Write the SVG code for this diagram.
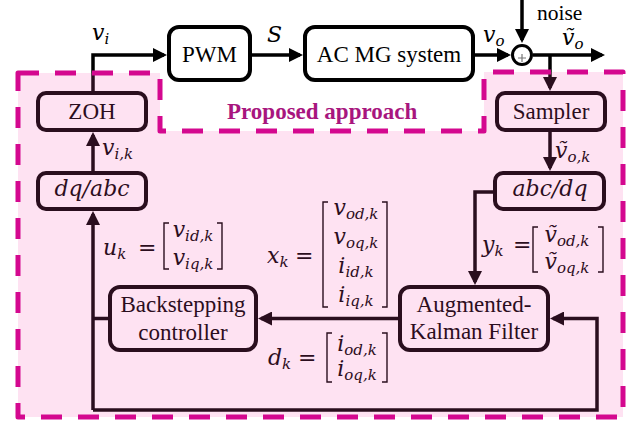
<svg xmlns="http://www.w3.org/2000/svg" width="639" height="422" viewBox="0 0 639 422">
<defs>
<marker id="ah" markerUnits="userSpaceOnUse" markerWidth="14" markerHeight="14" refX="11" refY="7" orient="auto"><path d="M0,0 L14,7 L0,14 z" fill="#000"/></marker>
<style>
.box{fill:#fff;stroke:#000;stroke-width:4}
.t{font-family:"Liberation Serif","Times New Roman",serif;font-size:23px;fill:#000;text-anchor:middle}
.m{font-family:"DejaVu Serif",serif;font-style:italic;font-size:22px;fill:#000}
.mm{text-anchor:middle}
.s{font-size:15px}
.eq{font-style:normal}
.c{fill:none;stroke:#000;stroke-width:3.5;stroke-linejoin:miter}
.ca{marker-end:url(#ah)}
.br{fill:none;stroke:#000;stroke-width:1.4}
</style>
</defs>
<rect x="0" y="0" width="639" height="422" fill="#fff"/>

<g id="connectors">
<path class="c ca" d="M93,91 V55 H164"/>
<path class="c ca" d="M250,55 H300"/>
<path class="c ca" d="M473,55 H508"/>
<path class="c ca" d="M522,0 V40"/>
<path class="c ca" d="M533,55 H602"/>
<path class="c ca" d="M550,55 V88"/>
<path class="c ca" d="M550,130 V168"/>
<path class="c ca" d="M495,192 H475 V282"/>
<path class="c ca" d="M400,318.5 H261"/>
<path class="c" d="M110,318.5 H93"/>
<path class="c ca" d="M93,410 V214"/>
<path class="c ca" d="M93,410 H597 V318.5 H553"/>
<path class="c ca" d="M93,173 V135"/>
</g>

<g id="pwm"><rect class="box" x="169" y="27" width="81" height="53" rx="10"/><text class="t" x="209.5" y="62">PWM</text></g>
<g id="acmg"><rect class="box" x="305" y="27" width="168" height="53" rx="10"/><text class="t" x="389" y="62">AC MG system</text></g>
<g id="sum"><circle cx="522" cy="55" r="9.5" fill="#fff" stroke="#000" stroke-width="3"/><path d="M518,58 H526 M522,54 V62" stroke="#777" stroke-width="1.2" fill="none"/></g>
<g id="zoh"><rect class="box" x="38" y="93" width="108" height="37" rx="8"/><text class="t" x="92" y="119">ZOH</text></g>
<g id="sampler"><rect class="box" x="497" y="93" width="108" height="37" rx="8"/><text class="t" x="551" y="119">Sampler</text></g>
<g id="dqabc"><rect class="box" x="38" y="173" width="108" height="36" rx="8"/><text class="m mm" x="92" y="196">dq/abc</text></g>
<g id="abcdq"><rect class="box" x="495" y="173" width="109" height="36" rx="8"/><text class="m mm" x="550" y="196">abc/dq</text></g>
<g id="kalman"><rect class="box" x="400" y="287" width="148" height="63" rx="10"/><text class="t" x="474" y="312">Augmented-</text><text class="t" x="474" y="339">Kalman Filter</text></g>
<g id="backstepping"><rect class="box" x="110" y="287" width="146" height="63" rx="10"/><text class="t" x="183" y="312">Backstepping</text><text class="t" x="183" y="340">controller</text></g>

<g id="labels">
<text class="t" x="537" y="19.5" style="text-anchor:start;font-size:21.5px">noise</text>
<text class="m" x="92" y="40">v<tspan class="s" dy="4">i</tspan></text>
<text class="m" x="267" y="42">S</text>
<text class="m" x="483" y="42">v<tspan class="s" dy="4">o</tspan></text>
<text class="m" x="562" y="45">ṽ<tspan class="s" dy="4">o</tspan></text>
<text class="m" x="102" y="155">v<tspan class="s" dy="4">i,k</tspan></text>
<text class="m" x="555" y="158">ṽ<tspan class="s" dy="4">o,k</tspan></text>

<text class="m" x="103" y="255">u<tspan class="s" dy="4">k</tspan><tspan class="eq" x="138" y="255">=</tspan></text>
<text class="m mm" x="193" y="237">v<tspan class="s" dy="4">id,k</tspan></text>
<text class="m mm" x="193" y="265">v<tspan class="s" dy="4">iq,k</tspan></text>
<path class="br" d="M169,223 H164 V269 H169 M217,223 H222 V269 H217"/>

<text class="m" x="267" y="263">x<tspan class="s" dy="4">k</tspan><tspan class="eq" x="295" y="263">=</tspan></text>
<text class="m mm" x="356" y="215">v<tspan class="s" dy="4">od,k</tspan></text>
<text class="m mm" x="356" y="244">v<tspan class="s" dy="4">oq,k</tspan></text>
<text class="m mm" x="356" y="273">i<tspan class="s" dy="4">id,k</tspan></text>
<text class="m mm" x="356" y="302">i<tspan class="s" dy="4">iq,k</tspan></text>
<path class="br" d="M328,202 H323 V307 H328 M382,202 H387 V307 H382"/>

<text class="m" x="482" y="252">y<tspan class="s" dy="4">k</tspan><tspan class="eq" x="513" y="252">=</tspan></text>
<text class="m mm" x="567" y="242">ṽ<tspan class="s" dy="4">od,k</tspan></text>
<text class="m mm" x="567" y="269">ṽ<tspan class="s" dy="4">oq,k</tspan></text>
<path class="br" d="M538,227 H533 V272 H538 M598,227 H603 V272 H598"/>

<text class="m" x="268" y="365">d<tspan class="s" dy="4">k</tspan><tspan class="eq" x="298" y="365">=</tspan></text>
<text class="m mm" x="357" y="351">i<tspan class="s" dy="4">od,k</tspan></text>
<text class="m mm" x="357" y="376">i<tspan class="s" dy="4">oq,k</tspan></text>
<path class="br" d="M332,333 H327 V382 H332 M382,333 H387 V382 H382"/>
</g>

<g id="region">
<polygon points="18,73 160,73 160,131 484,131 484,72 623,72 623,417 18,417" fill="rgb(247,82,176)" fill-opacity="0.17"/>
<polygon points="18,73 160,73 160,131 484,131 484,72 623,72 623,417 18,417" fill="none" stroke="#d4088f" stroke-width="5" stroke-dasharray="21 16" stroke-linejoin="round"/>
<text x="227" y="119" style="font-family:'Liberation Serif','Times New Roman',serif;font-size:23px;font-weight:bold;fill:#a8157e">Proposed approach</text>
</g>
</svg>
